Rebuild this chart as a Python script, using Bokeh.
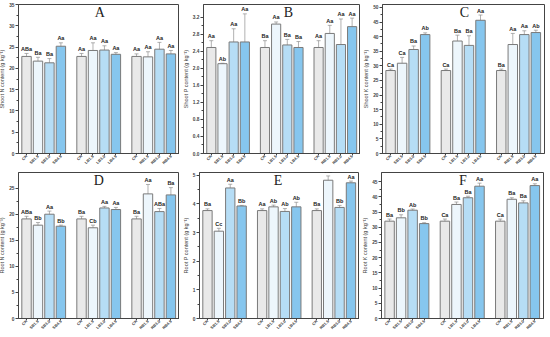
import math
from bokeh.plotting import figure
from bokeh.models import (Range1d, FixedTicker, ColumnDataSource, Whisker, TeeHead, Label)
from bokeh.layouts import row, column
from bokeh.embed import file_html
from bokeh.resources import INLINE
from bokeh.core.properties import value

# ---------------- data ----------------
treatments = ["CK", "SB1.5", "SB3.0", "SB4.5",
              "CK", "LB1.5", "LB3.0", "LB4.5",
              "CK", "RB1.5", "RB3.0", "RB4.5"]

shoot_n = [22.8, 21.7, 21.3, 25.2, 22.8, 24.2, 24.3, 23.3, 22.8, 22.7, 24.5, 23.4]
shoot_n_err = [0.7, 0.9, 1.0, 0.8, 0.7, 1.8, 1.0, 0.4, 0.6, 1.2, 1.6, 0.8]
shoot_n_sig = ["ABa", "Ba", "Ba", "Aa", "Aa", "Aa", "Aa", "Aa", "Aa", "Aa", "Aa", "Aa"]

shoot_p = [2.49, 2.11, 2.62, 2.62, 2.49, 3.04, 2.55, 2.49, 2.49, 2.82, 2.56, 2.98]
shoot_p_err = [0.16, 0.01, 0.31, 0.66, 0.16, 0.05, 0.13, 0.14, 0.16, 0.19, 0.60, 0.20]
shoot_p_sig = ["Aa", "Ab", "Aa", "Aa", "Ba", "Aa", "Ba", "Ba", "Aa", "Aa", "Aa", "Aa"]

shoot_k = [28.4, 30.9, 35.6, 40.7, 28.4, 38.5, 37.0, 45.6, 28.4, 37.3, 40.7, 41.4]
shoot_k_err = [0.5, 2.0, 1.2, 0.6, 0.5, 2.0, 3.3, 1.8, 0.5, 3.8, 1.3, 0.8]
shoot_k_sig = ["Ca", "Ca", "Ba", "Ab", "Ca", "Ba", "Ba", "Aa", "Ba", "Aa", "Aa", "Ab"]

root_n = [19.1, 17.9, 20.0, 17.7, 19.1, 17.4, 21.2, 20.9, 19.1, 23.9, 20.5, 23.7]
root_n_err = [0.5, 0.5, 0.6, 0.2, 0.5, 0.5, 0.3, 0.4, 0.5, 1.8, 0.6, 1.4]
root_n_sig = ["ABa", "Bb", "Aa", "Bb", "Ba", "Cb", "Aa", "Aa", "Ba", "Aa", "ABa", "Ba"]

root_p = [3.77, 3.05, 4.56, 3.93, 3.77, 3.90, 3.74, 3.90, 3.77, 4.83, 3.88, 4.74]
root_p_err = [0.06, 0.10, 0.13, 0.02, 0.06, 0.06, 0.10, 0.16, 0.06, 0.15, 0.07, 0.06]
root_p_sig = ["Ba", "Cc", "Aa", "Bb", "Aa", "Ab", "Ab", "Ab", "Ba", "Aa", "Bb", "Aa"]

root_k = [32.0, 33.1, 35.6, 31.2, 32.0, 37.5, 39.7, 43.5, 32.0, 39.2, 38.0, 43.7]
root_k_err = [0.7, 1.0, 0.4, 0.3, 0.7, 0.8, 0.5, 1.0, 0.7, 0.5, 0.7, 0.6]
root_k_sig = ["Ba", "Bb", "Ab", "Bb", "Ca", "Ba", "Ba", "Aa", "Ca", "Ba", "Ba", "Aa"]

# ---------------- style ----------------
bar_colors = ["#e9e9e9", "#edf6fc", "#b6ddf5", "#86c6ee"]
FONT = "Liberation Sans"
GROUP_STEP = 4.8
positions = [g * GROUP_STEP + i for g in range(3) for i in range(4)]


def make_panel(vals, errs, sigs, ylabel, ymax, yticks, letter, letter_x,
               fmt, width, height, mbl, mbr, mbt, mbb):
    p = figure(width=width, height=height, min_border_left=mbl,
               min_border_right=mbr, min_border_top=mbt, min_border_bottom=mbb,
               x_range=Range1d(-0.7, 2 * GROUP_STEP + 3.75),
               y_range=Range1d(0, ymax),
               output_backend="svg", toolbar_location=None)
    p.xgrid.visible = False
    p.ygrid.visible = False
    p.outline_line_color = "#444444"
    p.outline_line_width = 1
    p.background_fill_color = "white"
    p.border_fill_color = "white"

    colors = [bar_colors[i % 4] for i in range(12)]
    src = ColumnDataSource(dict(
        x=positions, top=vals, color=colors,
        upper=[v + e for v, e in zip(vals, errs)],
        lower=[v - e for v, e in zip(vals, errs)],
        sig=sigs))
    p.vbar(x="x", top="top", width=0.82, bottom=0, fill_color="color",
           line_color="#7a7a7a", line_width=1, source=src)
    w = Whisker(source=src, base="x", upper="upper", lower="lower",
                line_color="#8f8f8f", line_width=0.7,
                upper_head=TeeHead(size=4, line_color="#8f8f8f", line_width=0.7),
                lower_head=TeeHead(size=4, line_color="#8f8f8f", line_width=0.7))
    p.add_layout(w)
    p.text(x="x", y="upper", text="sig", source=src, text_align="center",
           text_baseline="bottom", y_offset=-1.5, text_font_size="5.5px",
           text_font=value(FONT), text_font_style="bold", text_color="#222222")

    p.add_layout(Label(x=letter_x, y=ymax * 0.945, text=letter,
                       text_font="Liberation Serif", text_font_size="14px",
                       text_align="center", text_baseline="middle",
                       text_color="#222222"))

    # x axis
    p.xaxis.ticker = FixedTicker(ticks=positions)
    p.xaxis.major_label_overrides = {pos: lab for pos, lab in zip(positions, treatments)}
    p.xaxis.major_label_orientation = math.pi / 4
    p.xaxis.major_label_text_font_size = "4px"
    p.xaxis.major_label_text_font = FONT
    p.xaxis.major_label_text_font_style = "bold"
    p.xaxis.major_label_standoff = 0
    p.xaxis.major_tick_out = 2
    p.xaxis.major_tick_in = 0
    p.xaxis.minor_tick_out = 0
    p.xaxis.axis_line_color = "#444444"
    p.xaxis.major_tick_line_color = "#444444"

    # y axis
    p.yaxis.ticker = FixedTicker(ticks=yticks,
                                 minor_ticks=[(yticks[k] + yticks[k + 1]) / 2
                                              for k in range(len(yticks) - 1)])
    p.yaxis.major_label_overrides = {t: fmt.format(t) for t in yticks}
    p.yaxis.major_label_text_font_size = "4.8px"
    p.yaxis.major_label_text_font = FONT
    p.yaxis.major_label_text_font_style = "bold"
    p.yaxis.major_label_standoff = 1
    p.yaxis.major_tick_out = 3
    p.yaxis.major_tick_in = 0
    p.yaxis.minor_tick_out = 2
    p.yaxis.minor_tick_in = 0
    p.yaxis.axis_label = ylabel
    p.yaxis.axis_label_text_font_size = "5.5px"
    p.yaxis.axis_label_text_font = FONT
    p.yaxis.axis_label_text_font_style = "normal"
    p.yaxis.axis_label_standoff = 1
    p.yaxis.axis_line_color = "#444444"
    p.yaxis.major_tick_line_color = "#444444"
    p.yaxis.minor_tick_line_color = "#444444"
    return p


unit = " content (g kg\u207b\u00b9)"
TOP_H, BOT_H = 172, 165

pA = make_panel(shoot_n, shoot_n_err, shoot_n_sig, "Shoot N" + unit, 35,
                list(range(0, 36, 5)), "A", 6.4, "{:.0f}", 183, TOP_H, 19, 0, 6, 16)
pB = make_panel(shoot_p, shoot_p_err, shoot_p_sig, "Shoot P" + unit, 3.5,
                [round(0.4 * k, 1) for k in range(9)], "B", 6.9, "{:.1f}", 181, TOP_H, 20, 0, 6, 16)
pC = make_panel(shoot_k, shoot_k_err, shoot_k_sig, "Shoot K" + unit, 51,
                list(range(0, 51, 5)), "C", 6.4, "{:.0f}", 186, TOP_H, 22, 2, 6, 16)
pD = make_panel(root_n, root_n_err, root_n_sig, "Root N" + unit, 28,
                list(range(0, 26, 5)), "D", 6.3, "{:.0f}", 183, BOT_H, 20, 0, 2, 14)
pE = make_panel(root_p, root_p_err, root_p_sig, "Root P" + unit, 5.1,
                list(range(0, 6, 1)), "E", 6.2, "{:.0f}", 180, BOT_H, 18, 0, 2, 14)
pF = make_panel(root_k, root_k_err, root_k_sig, "Root K" + unit, 48,
                list(range(0, 46, 5)), "F", 6.35, "{:.0f}", 187, BOT_H, 21, 3, 2, 14)

layout = column(row(pA, pB, pC, spacing=0), row(pD, pE, pF, spacing=0), spacing=0,
                margin=(-2, 0, 0, -4))

open("out.html", "w").write(file_html(layout, INLINE))
